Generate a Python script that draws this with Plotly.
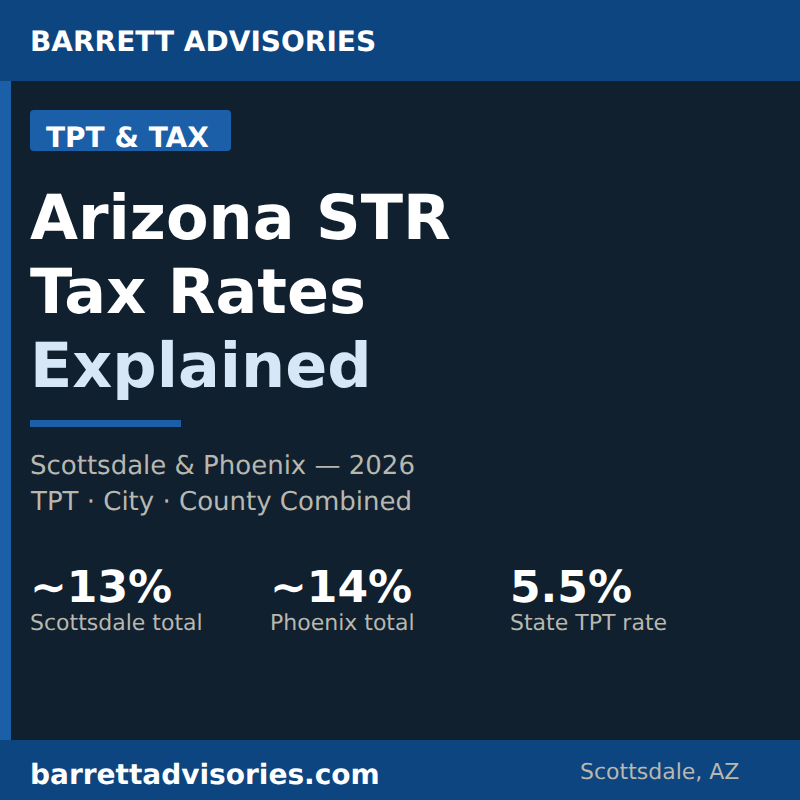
import plotly.graph_objects as go

FONT = "DejaVu Sans"
BG = "#10202e"
BAND = "#0d4580"
ACCENT = "#1a5fa8"
WHITE = "#ffffff"
PALE = "#d6e8f8"
GREY = "#b8b8b0"

title_lines = ["Arizona STR", "Tax Rates", "Explained"]
title_colors = [WHITE, WHITE, PALE]
title_y = [241, 315, 389]

sub_lines = ["Scottsdale &amp; Phoenix — 2026", "TPT · City · County Combined"]
sub_y = [476, 512]

stat_values = ["~13%", "~14%", "5.5%"]
stat_labels = ["Scottsdale total", "Phoenix total", "State TPT rate"]
stat_x = [30, 270, 510]


def rect(x0, y0, x1, y1, color):
    return dict(type="rect", xref="paper", yref="paper", x0=x0 / 800, x1=x1 / 800,
                y0=1 - y1 / 800, y1=1 - y0 / 800, fillcolor=color, line_width=0, layer="below")


def text(x, y, s, size, color, bold=False):
    # y is the text baseline in pixels from the top
    return dict(xref="paper", yref="paper", x=x / 800, y=1 - y / 800, text=f"<b>{s}</b>" if bold else s,
                showarrow=False, xanchor="left", yanchor="bottom", xshift=-2, yshift=-0.236 * size,
                font=dict(family=FONT, size=size, color=color))


shapes = [
    rect(0, 0, 800, 81, BAND),
    rect(0, 740, 800, 800, BAND),
    rect(0, 81, 11, 740, ACCENT),
    rect(30, 420, 181, 427, ACCENT),
    dict(type="path", xref="paper", yref="paper", fillcolor=ACCENT, line_width=0, layer="below",
         path="M %f %f L %f %f Q %f %f %f %f L %f %f Q %f %f %f %f L %f %f Q %f %f %f %f L %f %f Q %f %f %f %f Z" % (
             34 / 800, 1 - 110 / 800, 227 / 800, 1 - 110 / 800,
             231 / 800, 1 - 110 / 800, 231 / 800, 1 - 114 / 800,
             231 / 800, 1 - 147 / 800,
             231 / 800, 1 - 151 / 800, 227 / 800, 1 - 151 / 800,
             34 / 800, 1 - 151 / 800,
             30 / 800, 1 - 151 / 800, 30 / 800, 1 - 147 / 800,
             30 / 800, 1 - 114 / 800,
             30 / 800, 1 - 110 / 800, 34 / 800, 1 - 110 / 800)),
]

annotations = [
    text(30, 53, "BARRETT ADVISORIES", 28, WHITE, True),
    text(46, 149, "TPT &amp; TAX", 28, WHITE, True),
    text(30, 786, "barrettadvisories.com", 28, WHITE, True),
    text(580, 781, "Scottsdale, AZ", 22, GREY),
]
for line, color, y in zip(title_lines, title_colors, title_y):
    annotations.append(text(30, y, line, 62, color, True))
for line, y in zip(sub_lines, sub_y):
    annotations.append(text(30, y, line, 26, GREY))
for x, value, label in zip(stat_x, stat_values, stat_labels):
    annotations.append(text(x, 604, value, 44, WHITE, True))
    annotations.append(text(x, 632, label, 22, GREY))

fig = go.Figure()
fig.update_layout(
    width=800, height=800, autosize=False,
    margin=dict(l=0, r=0, t=0, b=0),
    paper_bgcolor=BG, plot_bgcolor=BG,
    xaxis=dict(visible=False), yaxis=dict(visible=False),
    shapes=shapes, annotations=annotations,
)
# the page's default body margin would push the figure 8px in; kerned, unhinted text like the reference
post = """
document.body.style.margin='0';
document.documentElement.style.overflow='hidden';
var st=document.createElement('style');
st.textContent='svg text{text-rendering:geometricPrecision !important;font-kerning:normal !important;}';
document.head.appendChild(st);
"""
fig.write_html("out.html", config={"displayModeBar": False}, post_script=post)
